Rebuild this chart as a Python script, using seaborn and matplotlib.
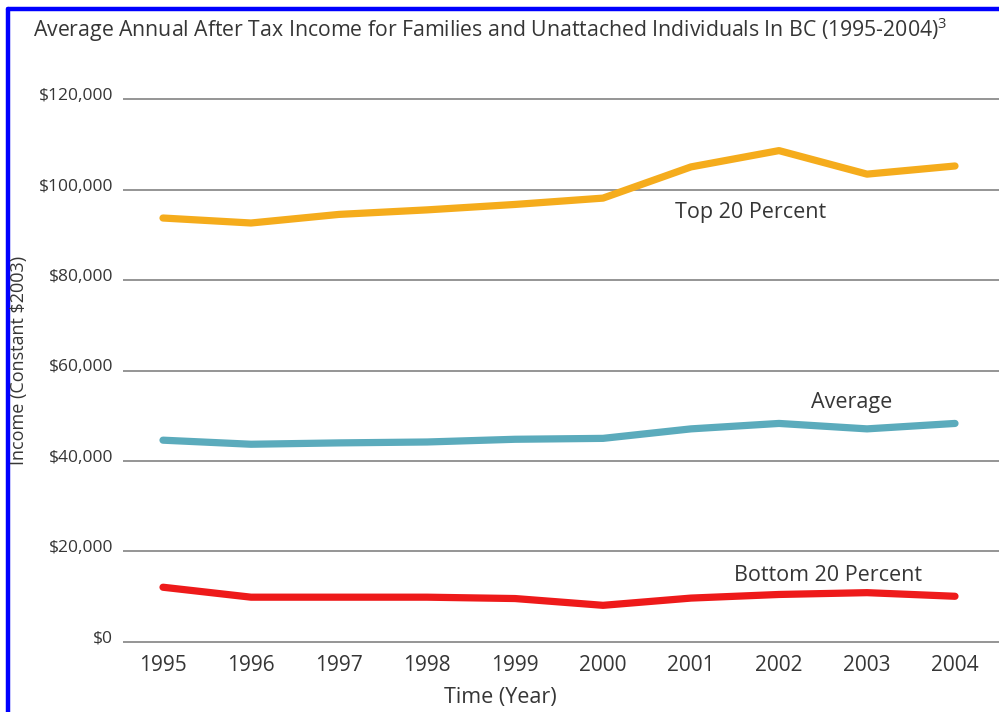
import matplotlib
matplotlib.use("Agg")
import matplotlib.pyplot as plt
from matplotlib import font_manager
from matplotlib.transforms import ScaledTranslation
from matplotlib.lines import Line2D
import seaborn as sns
import pandas as pd

# Income series, constant 2003 dollars
years = [1995, 1996, 1997, 1998, 1999, 2000, 2001, 2002, 2003, 2004]
top_20 = [93700, 92600, 94500, 95500, 96700, 98100, 105000, 108600, 103400, 105200]
average = [44600, 43700, 44000, 44200, 44800, 45000, 47100, 48300, 47100, 48300]
bottom_20 = [12100, 9900, 9900, 9900, 9600, 8100, 9700, 10500, 10900, 10100]

series_names = ["Top 20 Percent", "Average", "Bottom 20 Percent"]
series_values = [top_20, average, bottom_20]
series_colors = ["#F5AC1C", "#5BABBC", "#EE1A1A"]

y_ticks = [0, 20000, 40000, 60000, 80000, 100000, 120000]
y_tick_labels = ["$0", "$20,000", "$40,000", "$60,000", "$80,000", "$100,000", "$120,000"]

title = "Average Annual After Tax Income for Families and Unattached Individuals In BC (1995-2004)$^3$"

df = pd.DataFrame({
    "year": years * len(series_names),
    "income": [v for vals in series_values for v in vals],
    "group": [n for n in series_names for _ in years],
})

sns.set_theme(style="white")

available = {f.name for f in font_manager.fontManager.ttflist}
family = "DejaVu Sans"
for cand in ["Open Sans", "Noto Sans", "Lato"]:
    if cand in available:
        family = cand
        break
plt.rcParams["font.family"] = [family, "DejaVu Sans"]
plt.rcParams["mathtext.fontset"] = "custom"
plt.rcParams["mathtext.rm"] = family

text_color = "#363636"

fig = plt.figure(figsize=(9.99, 7.12), dpi=100)
fig.patch.set_facecolor("white")
ax = fig.add_axes([123 / 999, (712 - 646.5) / 712, 876 / 999, 552 / 712])

sns.lineplot(data=df, x="year", y="income", hue="group", hue_order=series_names,
             palette=series_colors, linewidth=5.2, legend=False, ax=ax,
             solid_capstyle="round", solid_joinstyle="round")

ax.set_xlim(1995 - 40 / 88, 2004 + 44 / 88)
ax.set_ylim(-1000, 121000)
ax.set_xticks(years)
ax.set_xticklabels([str(y) for y in years], fontsize=15, color=text_color)
ax.set_yticks(y_ticks)
ax.set_yticklabels(y_tick_labels, fontsize=12.5, color=text_color)
ax.tick_params(axis="both", length=0)
ax.tick_params(axis="y", pad=7)
ax.tick_params(axis="x", pad=6)
for lab in ax.get_yticklabels():
    lab.set_transform(lab.get_transform() + ScaledTranslation(0, 5 / 100, fig.dpi_scale_trans))

ax.set_axisbelow(True)
ax.yaxis.grid(True, color="#8c8c8c", linewidth=1.3)
ax.xaxis.grid(False)
for s in ax.spines.values():
    s.set_visible(False)

ax.set_xlabel("")
ax.set_ylabel("")
fig.text(500 / 999, 1 - 697 / 712, "Time (Year)", ha="center", va="center",
         fontsize=15.5, color=text_color)
fig.text(19 / 999, 1 - 360 / 712, "Income (Constant $2003)", rotation=90,
         ha="center", va="center", fontsize=13, color=text_color)

# Series names placed beside their lines
ax.text(2001.68, 95000, "Top 20 Percent", ha="center", va="center", fontsize=15.5, color=text_color)
ax.text(2002.83, 53000, "Average", ha="center", va="center", fontsize=15.5, color=text_color)
ax.text(2002.56, 14800, "Bottom 20 Percent", ha="center", va="center", fontsize=15.5, color=text_color)

fig.text(33 / 999, 1 - 30 / 712, title, ha="left", va="center", fontsize=15.3, color=text_color)

# Blue frame along the top and left edges
fig.add_artist(Line2D([8 / 999, 1.0], [1 - 9 / 712, 1 - 9 / 712], color="#0000FF",
                      linewidth=3.2, transform=fig.transFigure))
fig.add_artist(Line2D([8 / 999, 8 / 999], [0, 1 - 9 / 712], color="#0000FF",
                      linewidth=3.2, transform=fig.transFigure))

fig.savefig("out.png", dpi=100)
